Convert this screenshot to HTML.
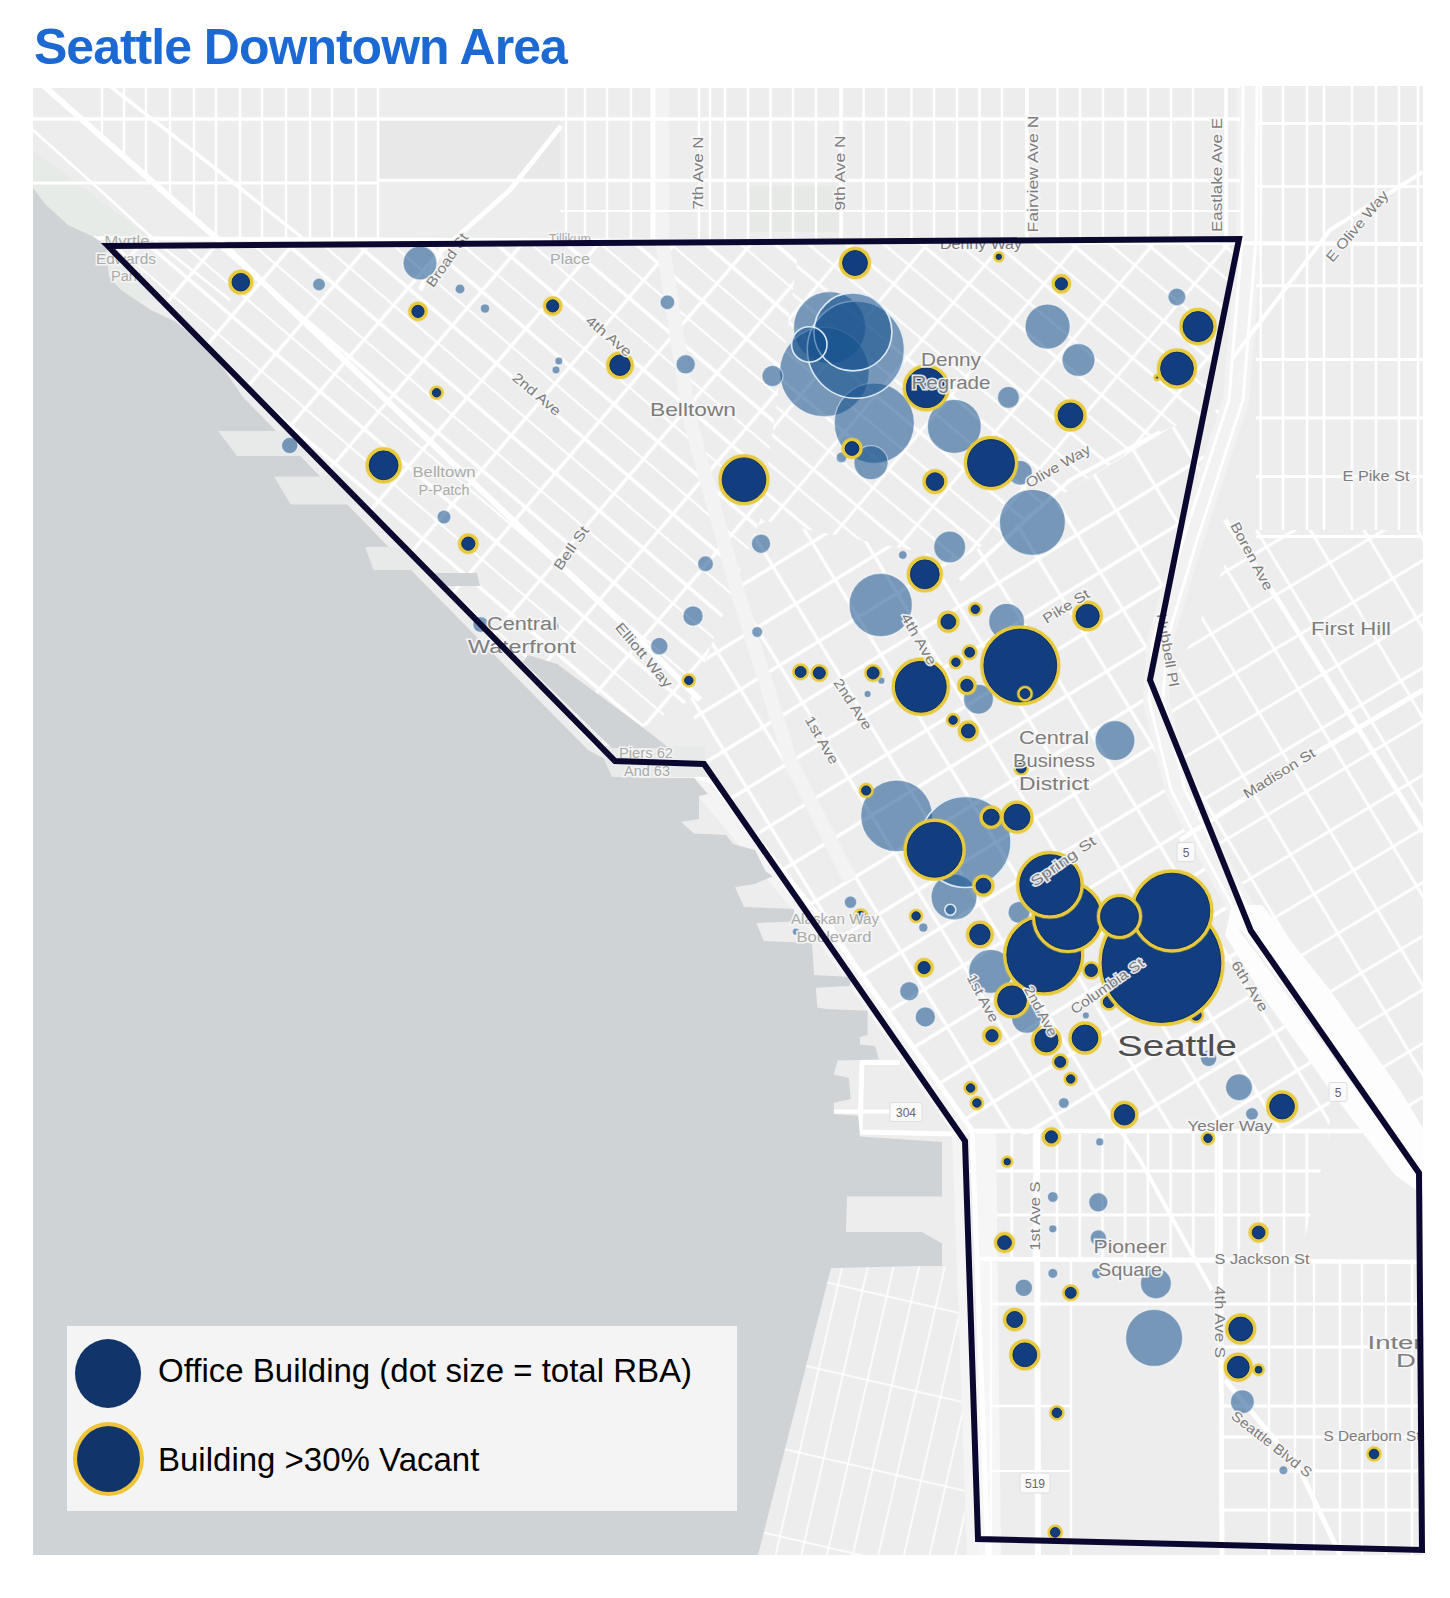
<!DOCTYPE html>
<html><head><meta charset="utf-8"><style>
html,body{margin:0;padding:0;background:#fff;width:1450px;height:1598px;overflow:hidden;position:relative}
.t{position:absolute;left:34px;top:17px;margin:0;font-family:"Liberation Sans",sans-serif;font-weight:bold;font-size:50px;letter-spacing:-1px;color:#1c69d3;white-space:nowrap;line-height:60px}
.lg{position:absolute;left:67px;top:1326px;width:670px;height:185px;background:#f4f4f5}
.lg .c1{position:absolute;left:8px;top:13px;width:66px;height:69px;border-radius:50%;background:#11346a}
.lg .c2{position:absolute;left:6px;top:96px;width:63px;height:66px;border-radius:50%;background:#11346a;border:4px solid #f0c43a}
.lg .tx{position:absolute;left:91px;font-family:"Liberation Sans",sans-serif;font-size:33px;color:#000;white-space:nowrap;line-height:40px}
</style></head><body>
<div class="t">Seattle Downtown Area</div>
<svg width="1450" height="1598" viewBox="0 0 1450 1598" style="position:absolute;left:0;top:0">
<defs><clipPath id="mc"><rect x="33" y="86" width="1390" height="1469"/></clipPath></defs>
<g clip-path="url(#mc)">
<rect x="33" y="86" width="1390" height="1469" fill="#ededed"/>
<defs><pattern id="pPS" width="22.7" height="44" patternUnits="userSpaceOnUse" patternTransform="translate(989,1127) rotate(0)">
<rect width="22.7" height="44" fill="#ededed"/>
<rect x="-1.3" y="0" width="2.6" height="44" fill="#fff"/>
<rect x="21.4" y="0" width="2.6" height="44" fill="#fff"/>
<rect x="0" y="-1.5" width="22.7" height="3.0" fill="#fff"/>
<rect x="0" y="42.5" width="22.7" height="3.0" fill="#fff"/>
</pattern>
<pattern id="pBT" width="58" height="45.3" patternUnits="userSpaceOnUse" patternTransform="translate(555.2,473.1) rotate(40.5)">
<rect width="58" height="45.3" fill="#ededed"/>
<rect x="0" y="-1.8" width="58" height="3.6" fill="#fff"/>
<rect x="0" y="43.5" width="58" height="3.6" fill="#fff"/>
<rect x="0" y="21.6" width="58" height="2.0" fill="#fff"/>
<rect x="-1.7" y="0" width="3.4" height="45.3" fill="#fff"/>
<rect x="56.3" y="0" width="3.4" height="45.3" fill="#fff"/>
</pattern>
<pattern id="pDZ" width="57.6" height="48.4" patternUnits="userSpaceOnUse" patternTransform="translate(969,284) rotate(40)">
<rect width="57.6" height="48.4" fill="#ededed"/>
<rect x="0" y="-1.5" width="57.6" height="3.0" fill="#fff"/>
<rect x="0" y="46.9" width="57.6" height="3.0" fill="#fff"/>
<rect x="0" y="23.099999999999998" width="57.6" height="2.2" fill="#fff"/>
<rect x="-1.5" y="0" width="3.0" height="48.4" fill="#fff"/>
<rect x="56.1" y="0" width="3.0" height="48.4" fill="#fff"/>
</pattern>
<pattern id="pDT" width="44" height="46" patternUnits="userSpaceOnUse" patternTransform="translate(1097.4,831.8) rotate(58.5)">
<rect width="44" height="46" fill="#ededed"/>
<rect x="0" y="-1.6" width="44" height="3.2" fill="#fff"/>
<rect x="0" y="44.4" width="44" height="3.2" fill="#fff"/>
<rect x="-1.7" y="0" width="3.4" height="46" fill="#fff"/>
<rect x="42.3" y="0" width="3.4" height="46" fill="#fff"/>
</pattern>
<pattern id="pFH" width="46" height="46" patternUnits="userSpaceOnUse" patternTransform="translate(1180,760) rotate(59)">
<rect width="46" height="46" fill="#ededed"/>
<rect x="0" y="-1.4" width="46" height="2.8" fill="#fff"/>
<rect x="0" y="44.6" width="46" height="2.8" fill="#fff"/>
<rect x="-1.4" y="0" width="2.8" height="46" fill="#fff"/>
<rect x="44.6" y="0" width="2.8" height="46" fill="#fff"/>
</pattern>
<pattern id="pIND" width="86" height="25" patternUnits="userSpaceOnUse" patternTransform="translate(838,1285) rotate(-77)">
<rect width="86" height="25" fill="#ededed"/>
<rect x="0" y="-0.8" width="86" height="1.6" fill="#fff"/>
<rect x="0" y="24.2" width="86" height="1.6" fill="#fff"/>
<rect x="-0.8" y="0" width="1.6" height="25" fill="#fff"/>
<rect x="85.2" y="0" width="1.6" height="25" fill="#fff"/>
</pattern></defs>
<rect x="380" y="120" width="180" height="60" fill="#e8e8e8"/>
<rect x="750" y="186" width="90" height="46" fill="#e6e9e6"/>
<polygon points="33.0,150.0 100.0,200.0 180.0,260.0 230.0,300.0 33.0,300.0" fill="#e7ebe7"/>
<polygon points="965.0,1131.0 1330.0,1131.0 1300.0,1259.0 978.0,1259.0" fill="url(#pPS)"/>
<polygon points="108.0,245.0 800.0,242.0 760.0,520.0 690.0,700.0 600.0,752.0" fill="url(#pBT)"/>
<polygon points="800.0,242.0 1236.0,240.0 1200.0,420.0 1160.0,432.0 960.0,560.0 760.0,520.0" fill="url(#pDZ)"/>
<polygon points="690.0,700.0 760.0,520.0 960.0,560.0 1160.0,432.0 1240.0,400.0 1150.0,680.0 1251.0,931.0 1330.0,1050.0 1330.0,1131.0 965.0,1135.0 704.0,764.0" fill="url(#pDT)"/>
<polygon points="1240.0,530.0 1423.0,530.0 1423.0,1180.0 1330.0,1050.0 1200.0,860.0 1165.0,700.0" fill="url(#pFH)"/>
<polygon points="831.0,1268.0 963.0,1266.0 965.0,1555.0 758.0,1555.0" fill="url(#pIND)"/>
<polyline points="1250.0,86.0 1249.0,240.0 1236.0,400.0 1190.0,540.0 1160.0,640.0 1156.0,700.0 1178.0,790.0 1220.0,870.0 1250.0,925.0" fill="none" stroke="#f2f2f2" stroke-width="26" stroke-linejoin="round" stroke-linecap="butt" opacity="1"/>
<polyline points="1243.0,86.0 1242.0,240.0 1229.0,400.0 1183.0,540.0 1153.0,640.0 1149.0,700.0 1171.0,790.0 1213.0,870.0 1243.0,925.0" fill="none" stroke="#fff" stroke-width="3" stroke-linejoin="round" stroke-linecap="butt" opacity="1"/>
<polyline points="1257.0,86.0 1256.0,240.0 1243.0,400.0 1197.0,540.0 1167.0,640.0 1163.0,700.0 1185.0,790.0 1227.0,870.0 1257.0,925.0" fill="none" stroke="#fff" stroke-width="3" stroke-linejoin="round" stroke-linecap="butt" opacity="1"/>
<polyline points="44.0,86.0 130.0,162.0 223.0,244.0 300.0,318.0 420.0,432.0 540.0,546.0 640.0,640.0 700.0,700.0" fill="none" stroke="#fff" stroke-width="6" stroke-linejoin="round" stroke-linecap="butt" opacity="1"/>
<polyline points="110.0,86.0 230.0,180.0 310.0,244.0" fill="none" stroke="#fff" stroke-width="3.5" stroke-linejoin="round" stroke-linecap="butt" opacity="1"/>
<polyline points="33.0,130.0 100.0,190.0 160.0,245.0 230.0,300.0" fill="none" stroke="#fff" stroke-width="2.5" stroke-linejoin="round" stroke-linecap="butt" opacity="1"/>
<polyline points="561.0,126.0 510.0,190.0 440.0,252.0 420.0,290.0" fill="none" stroke="#fff" stroke-width="5" stroke-linejoin="round" stroke-linecap="butt" opacity="1"/>
<polyline points="662.0,86.0 662.0,240.0 690.0,420.0 740.0,600.0 790.0,760.0 850.0,880.0" fill="none" stroke="#f3f3f3" stroke-width="14" stroke-linejoin="round" stroke-linecap="butt" opacity="1"/>
<polyline points="653.0,86.0 653.0,240.0" fill="none" stroke="#fff" stroke-width="5" stroke-linejoin="round" stroke-linecap="butt" opacity="1"/>
<polyline points="600.0,742.0 700.0,786.0 820.0,930.0 960.0,1130.0 975.0,1555.0" fill="none" stroke="#f4f4f4" stroke-width="16" stroke-linejoin="round" stroke-linecap="butt" opacity="1"/>
<polyline points="985.0,1130.0 990.0,1555.0" fill="none" stroke="#f6f6f6" stroke-width="22" stroke-linejoin="round" stroke-linecap="butt" opacity="1"/>
<polyline points="608.0,738.0 712.0,782.0 830.0,930.0 972.0,1130.0 988.0,1555.0" fill="none" stroke="#fff" stroke-width="5" stroke-linejoin="round" stroke-linecap="butt" opacity="1"/>
<polyline points="1423.0,172.0 1330.0,230.0 1232.0,359.0" fill="none" stroke="#fff" stroke-width="4" stroke-linejoin="round" stroke-linecap="butt" opacity="1"/>
<polyline points="33.0,238.0 1423.0,244.0" fill="none" stroke="#fff" stroke-width="4" stroke-linejoin="round" stroke-linecap="butt" opacity="1"/>
<polyline points="965.0,1131.0 1423.0,1131.0" fill="none" stroke="#fff" stroke-width="4.5" stroke-linejoin="round" stroke-linecap="butt" opacity="1"/>
<polyline points="980.0,1259.0 1423.0,1262.0" fill="none" stroke="#fff" stroke-width="4.5" stroke-linejoin="round" stroke-linecap="butt" opacity="1"/>
<polyline points="1037.0,1131.0 1038.0,1555.0" fill="none" stroke="#fff" stroke-width="6" stroke-linejoin="round" stroke-linecap="butt" opacity="1"/>
<polyline points="1220.0,1131.0 1222.0,1555.0" fill="none" stroke="#fff" stroke-width="5" stroke-linejoin="round" stroke-linecap="butt" opacity="1"/>
<polyline points="1225.0,1380.0 1300.0,1470.0 1340.0,1555.0" fill="none" stroke="#fff" stroke-width="5" stroke-linejoin="round" stroke-linecap="butt" opacity="1"/>
<polyline points="960.0,580.0 1070.0,480.0 1160.0,432.0" fill="none" stroke="#fff" stroke-width="4" stroke-linejoin="round" stroke-linecap="butt" opacity="1"/>
<polyline points="1225.0,520.0 1278.0,600.0 1423.0,832.0" fill="none" stroke="#fff" stroke-width="5" stroke-linejoin="round" stroke-linecap="butt" opacity="1"/>
<polyline points="1180.0,840.0 1321.0,750.0 1423.0,690.0" fill="none" stroke="#fff" stroke-width="5" stroke-linejoin="round" stroke-linecap="butt" opacity="1"/>
<polyline points="900.0,1062.5 862.0,1062.5 860.0,1132.0 958.0,1134.0" fill="none" stroke="#fff" stroke-width="5" stroke-linejoin="round" stroke-linecap="butt" opacity="1"/>
<polyline points="833.0,1111.4 892.0,1111.4" fill="none" stroke="#fff" stroke-width="4" stroke-linejoin="round" stroke-linecap="butt" opacity="1"/>
<polyline points="1090.0,1085.0 1140.0,1160.0 1212.0,1290.0" fill="none" stroke="#fff" stroke-width="4" stroke-linejoin="round" stroke-linecap="butt" opacity="1"/>
<polyline points="102.0,86.0 102.0,137.6" fill="none" stroke="#fff" stroke-width="2.4" stroke-linejoin="round" stroke-linecap="butt" opacity="1"/>
<polyline points="124.0,86.0 124.0,157.0" fill="none" stroke="#fff" stroke-width="2.4" stroke-linejoin="round" stroke-linecap="butt" opacity="1"/>
<polyline points="146.0,86.0 146.0,176.3" fill="none" stroke="#fff" stroke-width="2.4" stroke-linejoin="round" stroke-linecap="butt" opacity="1"/>
<polyline points="170.0,86.0 170.0,197.4" fill="none" stroke="#fff" stroke-width="2.4" stroke-linejoin="round" stroke-linecap="butt" opacity="1"/>
<polyline points="194.0,86.0 194.0,218.6" fill="none" stroke="#fff" stroke-width="2.4" stroke-linejoin="round" stroke-linecap="butt" opacity="1"/>
<polyline points="216.0,86.0 216.0,237.9" fill="none" stroke="#fff" stroke-width="2.4" stroke-linejoin="round" stroke-linecap="butt" opacity="1"/>
<polyline points="240.0,86.0 240.0,240.0" fill="none" stroke="#fff" stroke-width="2.4" stroke-linejoin="round" stroke-linecap="butt" opacity="1"/>
<polyline points="262.0,86.0 262.0,240.0" fill="none" stroke="#fff" stroke-width="2.4" stroke-linejoin="round" stroke-linecap="butt" opacity="1"/>
<polyline points="286.0,86.0 286.0,240.0" fill="none" stroke="#fff" stroke-width="2.4" stroke-linejoin="round" stroke-linecap="butt" opacity="1"/>
<polyline points="310.0,86.0 310.0,240.0" fill="none" stroke="#fff" stroke-width="2.4" stroke-linejoin="round" stroke-linecap="butt" opacity="1"/>
<polyline points="332.0,86.0 332.0,240.0" fill="none" stroke="#fff" stroke-width="2.4" stroke-linejoin="round" stroke-linecap="butt" opacity="1"/>
<polyline points="356.0,86.0 356.0,240.0" fill="none" stroke="#fff" stroke-width="2.4" stroke-linejoin="round" stroke-linecap="butt" opacity="1"/>
<polyline points="378.0,86.0 378.0,240.0" fill="none" stroke="#fff" stroke-width="2.4" stroke-linejoin="round" stroke-linecap="butt" opacity="1"/>
<polyline points="566.0,86.0 566.0,240.0" fill="none" stroke="#fff" stroke-width="2.4" stroke-linejoin="round" stroke-linecap="butt" opacity="1"/>
<polyline points="585.0,86.0 585.0,240.0" fill="none" stroke="#fff" stroke-width="2.4" stroke-linejoin="round" stroke-linecap="butt" opacity="1"/>
<polyline points="607.0,86.0 607.0,240.0" fill="none" stroke="#fff" stroke-width="2.4" stroke-linejoin="round" stroke-linecap="butt" opacity="1"/>
<polyline points="631.0,86.0 631.0,240.0" fill="none" stroke="#fff" stroke-width="2.4" stroke-linejoin="round" stroke-linecap="butt" opacity="1"/>
<polyline points="699.0,86.0 699.0,240.0" fill="none" stroke="#fff" stroke-width="2.4" stroke-linejoin="round" stroke-linecap="butt" opacity="1"/>
<polyline points="710.0,86.0 710.0,240.0" fill="none" stroke="#fff" stroke-width="2.4" stroke-linejoin="round" stroke-linecap="butt" opacity="1"/>
<polyline points="725.0,86.0 725.0,240.0" fill="none" stroke="#fff" stroke-width="2.4" stroke-linejoin="round" stroke-linecap="butt" opacity="1"/>
<polyline points="748.0,86.0 748.0,240.0" fill="none" stroke="#fff" stroke-width="2.4" stroke-linejoin="round" stroke-linecap="butt" opacity="1"/>
<polyline points="770.5,86.0 770.5,240.0" fill="none" stroke="#fff" stroke-width="2.4" stroke-linejoin="round" stroke-linecap="butt" opacity="1"/>
<polyline points="793.0,86.0 793.0,240.0" fill="none" stroke="#fff" stroke-width="2.4" stroke-linejoin="round" stroke-linecap="butt" opacity="1"/>
<polyline points="816.0,86.0 816.0,240.0" fill="none" stroke="#fff" stroke-width="2.4" stroke-linejoin="round" stroke-linecap="butt" opacity="1"/>
<polyline points="863.6,86.0 863.6,240.0" fill="none" stroke="#fff" stroke-width="2.4" stroke-linejoin="round" stroke-linecap="butt" opacity="1"/>
<polyline points="886.0,86.0 886.0,240.0" fill="none" stroke="#fff" stroke-width="2.4" stroke-linejoin="round" stroke-linecap="butt" opacity="1"/>
<polyline points="911.5,86.0 911.5,240.0" fill="none" stroke="#fff" stroke-width="2.4" stroke-linejoin="round" stroke-linecap="butt" opacity="1"/>
<polyline points="934.0,86.0 934.0,240.0" fill="none" stroke="#fff" stroke-width="2.4" stroke-linejoin="round" stroke-linecap="butt" opacity="1"/>
<polyline points="957.0,86.0 957.0,240.0" fill="none" stroke="#fff" stroke-width="2.4" stroke-linejoin="round" stroke-linecap="butt" opacity="1"/>
<polyline points="979.5,86.0 979.5,240.0" fill="none" stroke="#fff" stroke-width="2.4" stroke-linejoin="round" stroke-linecap="butt" opacity="1"/>
<polyline points="1002.0,86.0 1002.0,240.0" fill="none" stroke="#fff" stroke-width="2.4" stroke-linejoin="round" stroke-linecap="butt" opacity="1"/>
<polyline points="1057.5,86.0 1057.5,240.0" fill="none" stroke="#fff" stroke-width="2.4" stroke-linejoin="round" stroke-linecap="butt" opacity="1"/>
<polyline points="1080.0,86.0 1080.0,240.0" fill="none" stroke="#fff" stroke-width="2.4" stroke-linejoin="round" stroke-linecap="butt" opacity="1"/>
<polyline points="1103.0,86.0 1103.0,240.0" fill="none" stroke="#fff" stroke-width="2.4" stroke-linejoin="round" stroke-linecap="butt" opacity="1"/>
<polyline points="1125.5,86.0 1125.5,240.0" fill="none" stroke="#fff" stroke-width="2.4" stroke-linejoin="round" stroke-linecap="butt" opacity="1"/>
<polyline points="1148.0,86.0 1148.0,240.0" fill="none" stroke="#fff" stroke-width="2.4" stroke-linejoin="round" stroke-linecap="butt" opacity="1"/>
<polyline points="1171.0,86.0 1171.0,240.0" fill="none" stroke="#fff" stroke-width="2.4" stroke-linejoin="round" stroke-linecap="butt" opacity="1"/>
<polyline points="1193.0,86.0 1193.0,240.0" fill="none" stroke="#fff" stroke-width="2.4" stroke-linejoin="round" stroke-linecap="butt" opacity="1"/>
<polyline points="841.0,86.0 841.0,240.0" fill="none" stroke="#fff" stroke-width="3.6" stroke-linejoin="round" stroke-linecap="butt" opacity="1"/>
<polyline points="1027.0,86.0 1027.0,240.0" fill="none" stroke="#fff" stroke-width="3.6" stroke-linejoin="round" stroke-linecap="butt" opacity="1"/>
<polyline points="1226.0,86.0 1226.0,240.0" fill="none" stroke="#fff" stroke-width="3.6" stroke-linejoin="round" stroke-linecap="butt" opacity="1"/>
<polyline points="33.0,119.0 1240.0,119.0" fill="none" stroke="#fff" stroke-width="3.4" stroke-linejoin="round" stroke-linecap="butt" opacity="1"/>
<polyline points="33.0,183.0 378.0,183.0" fill="none" stroke="#fff" stroke-width="3.2" stroke-linejoin="round" stroke-linecap="butt" opacity="1"/>
<polyline points="378.0,180.4 1240.0,180.4" fill="none" stroke="#fff" stroke-width="3.2" stroke-linejoin="round" stroke-linecap="butt" opacity="1"/>
<polyline points="33.0,87.0 1240.0,87.0" fill="none" stroke="#fff" stroke-width="2" stroke-linejoin="round" stroke-linecap="butt" opacity="1"/>
<polyline points="560.0,211.0 1240.0,211.0" fill="none" stroke="#fff" stroke-width="2.2" stroke-linejoin="round" stroke-linecap="butt" opacity="1"/>
<polyline points="1260.7,86.0 1260.7,530.0" fill="none" stroke="#fff" stroke-width="2.6" stroke-linejoin="round" stroke-linecap="butt" opacity="1"/>
<polyline points="1283.0,86.0 1283.0,530.0" fill="none" stroke="#fff" stroke-width="2.6" stroke-linejoin="round" stroke-linecap="butt" opacity="1"/>
<polyline points="1307.0,86.0 1307.0,530.0" fill="none" stroke="#fff" stroke-width="2.6" stroke-linejoin="round" stroke-linecap="butt" opacity="1"/>
<polyline points="1324.0,86.0 1324.0,530.0" fill="none" stroke="#fff" stroke-width="2.6" stroke-linejoin="round" stroke-linecap="butt" opacity="1"/>
<polyline points="1352.0,86.0 1352.0,530.0" fill="none" stroke="#fff" stroke-width="2.6" stroke-linejoin="round" stroke-linecap="butt" opacity="1"/>
<polyline points="1376.0,86.0 1376.0,530.0" fill="none" stroke="#fff" stroke-width="2.6" stroke-linejoin="round" stroke-linecap="butt" opacity="1"/>
<polyline points="1399.0,86.0 1399.0,530.0" fill="none" stroke="#fff" stroke-width="2.6" stroke-linejoin="round" stroke-linecap="butt" opacity="1"/>
<polyline points="1418.0,86.0 1418.0,530.0" fill="none" stroke="#fff" stroke-width="2.6" stroke-linejoin="round" stroke-linecap="butt" opacity="1"/>
<polyline points="1256.0,123.6 1423.0,123.6" fill="none" stroke="#fff" stroke-width="3" stroke-linejoin="round" stroke-linecap="butt" opacity="1"/>
<polyline points="1256.0,186.6 1423.0,186.6" fill="none" stroke="#fff" stroke-width="3" stroke-linejoin="round" stroke-linecap="butt" opacity="1"/>
<polyline points="1256.0,243.7 1423.0,243.7" fill="none" stroke="#fff" stroke-width="3" stroke-linejoin="round" stroke-linecap="butt" opacity="1"/>
<polyline points="1256.0,285.8 1423.0,285.8" fill="none" stroke="#fff" stroke-width="3" stroke-linejoin="round" stroke-linecap="butt" opacity="1"/>
<polyline points="1256.0,359.4 1423.0,359.4" fill="none" stroke="#fff" stroke-width="3" stroke-linejoin="round" stroke-linecap="butt" opacity="1"/>
<polyline points="1256.0,418.0 1423.0,418.0" fill="none" stroke="#fff" stroke-width="3" stroke-linejoin="round" stroke-linecap="butt" opacity="1"/>
<polyline points="1256.0,476.5 1423.0,476.5" fill="none" stroke="#fff" stroke-width="3" stroke-linejoin="round" stroke-linecap="butt" opacity="1"/>
<polyline points="1256.0,536.6 1423.0,536.6" fill="none" stroke="#fff" stroke-width="3" stroke-linejoin="round" stroke-linecap="butt" opacity="1"/>
<polyline points="991.0,1259.0 991.0,1555.0" fill="none" stroke="#fff" stroke-width="2.4" stroke-linejoin="round" stroke-linecap="butt" opacity="1"/>
<polyline points="1071.0,1259.0 1071.0,1555.0" fill="none" stroke="#fff" stroke-width="2.4" stroke-linejoin="round" stroke-linecap="butt" opacity="1"/>
<polyline points="991.0,1304.0 1219.0,1304.0" fill="none" stroke="#fff" stroke-width="3" stroke-linejoin="round" stroke-linecap="butt" opacity="1"/>
<polyline points="991.0,1406.0 1071.0,1406.0" fill="none" stroke="#fff" stroke-width="2.6" stroke-linejoin="round" stroke-linecap="butt" opacity="1"/>
<polyline points="991.0,1471.0 1071.0,1471.0" fill="none" stroke="#fff" stroke-width="2.2" stroke-linejoin="round" stroke-linecap="butt" opacity="1"/>
<polyline points="1269.0,1259.0 1269.0,1555.0" fill="none" stroke="#fff" stroke-width="2.4" stroke-linejoin="round" stroke-linecap="butt" opacity="1"/>
<polyline points="1295.0,1259.0 1295.0,1555.0" fill="none" stroke="#fff" stroke-width="2.4" stroke-linejoin="round" stroke-linecap="butt" opacity="1"/>
<polyline points="1314.0,1259.0 1314.0,1555.0" fill="none" stroke="#fff" stroke-width="2.4" stroke-linejoin="round" stroke-linecap="butt" opacity="1"/>
<polyline points="1340.0,1259.0 1340.0,1555.0" fill="none" stroke="#fff" stroke-width="2.4" stroke-linejoin="round" stroke-linecap="butt" opacity="1"/>
<polyline points="1362.0,1259.0 1362.0,1555.0" fill="none" stroke="#fff" stroke-width="2.4" stroke-linejoin="round" stroke-linecap="butt" opacity="1"/>
<polyline points="1386.0,1259.0 1386.0,1555.0" fill="none" stroke="#fff" stroke-width="2.4" stroke-linejoin="round" stroke-linecap="butt" opacity="1"/>
<polyline points="1412.0,1259.0 1412.0,1555.0" fill="none" stroke="#fff" stroke-width="2.4" stroke-linejoin="round" stroke-linecap="butt" opacity="1"/>
<polyline points="1219.0,1304.0 1423.0,1304.0" fill="none" stroke="#fff" stroke-width="2.8" stroke-linejoin="round" stroke-linecap="butt" opacity="1"/>
<polyline points="1219.0,1347.0 1423.0,1347.0" fill="none" stroke="#fff" stroke-width="2.8" stroke-linejoin="round" stroke-linecap="butt" opacity="1"/>
<polyline points="1219.0,1406.0 1423.0,1406.0" fill="none" stroke="#fff" stroke-width="2.8" stroke-linejoin="round" stroke-linecap="butt" opacity="1"/>
<polyline points="1219.0,1437.0 1423.0,1437.0" fill="none" stroke="#fff" stroke-width="2.8" stroke-linejoin="round" stroke-linecap="butt" opacity="1"/>
<polyline points="1219.0,1471.0 1423.0,1471.0" fill="none" stroke="#fff" stroke-width="2.8" stroke-linejoin="round" stroke-linecap="butt" opacity="1"/>
<polyline points="1219.0,1510.0 1423.0,1510.0" fill="none" stroke="#fff" stroke-width="2.8" stroke-linejoin="round" stroke-linecap="butt" opacity="1"/>
<polygon points="1232.0,905.0 1262.0,905.0 1330.0,990.0 1400.0,1090.0 1430.0,1140.0 1430.0,1200.0 1395.0,1175.0 1330.0,1090.0 1262.0,995.0 1225.0,935.0" fill="#fdfdfd"/>
<polyline points="1240.0,930.0 1300.0,1010.0 1365.0,1100.0 1423.0,1175.0" fill="none" stroke="#eeeeee" stroke-width="2" stroke-linejoin="round" stroke-linecap="round" opacity="1"/>
<polygon points="33.0,188.0 45.0,204.0 68.0,225.0 94.0,237.0 106.0,246.0 109.0,277.0 121.0,290.0 151.0,310.0 176.0,322.0 212.0,352.0 243.0,397.0 408.0,567.0 588.0,750.0 640.0,778.0 694.0,778.0 708.0,794.0 699.0,796.0 699.0,819.0 681.0,822.0 694.0,833.5 726.0,835.0 733.0,844.0 755.0,850.0 765.5,871.0 772.7,876.5 755.0,883.7 735.0,887.3 744.0,907.0 794.0,909.0 794.0,921.4 756.5,923.0 763.7,941.0 812.0,943.0 814.0,975.0 851.6,977.0 849.8,986.0 815.7,987.7 817.5,1007.4 826.0,1009.0 867.6,1010.7 867.6,1035.0 860.0,1037.0 860.0,1044.5 875.0,1046.0 879.0,1059.5 837.6,1060.4 833.8,1074.5 848.8,1078.0 850.7,1099.0 833.8,1102.7 833.8,1114.0 858.2,1115.8 860.0,1136.5 912.7,1140.0 942.0,1142.0 942.0,1196.5 847.0,1196.5 846.0,1232.0 922.0,1232.0 942.0,1243.5 942.0,1266.0 920.0,1266.0 831.0,1268.0 758.0,1555.0 33.0,1555.0" fill="#cfd3d6"/>
<polygon points="218.0,431.0 293.0,431.0 315.0,456.0 237.0,456.0" fill="#e8e9e9"/>
<polygon points="274.0,476.6 332.0,476.6 357.0,504.5 290.7,504.5" fill="#e8e9e9"/>
<polygon points="365.0,547.0 398.0,547.0 425.0,570.0 373.5,570.0" fill="#e8e9e9"/>
<polygon points="598.0,746.0 705.0,746.0 705.0,777.0 612.0,777.0" fill="#e8e9e9"/>
<polygon points="528.0,655.0 557.0,664.0 641.0,726.0 669.0,748.0 612.0,748.0 523.0,662.0" fill="#cfd3d6"/>
<polygon points="433.0,573.0 477.0,573.0 480.0,586.0 446.0,586.0" fill="#cfd3d6"/>
<!--ROADS-->
</g>
<g>
<circle cx="896.6" cy="815.9" r="35.9" fill="rgba(20,80,140,0.55)" stroke="rgba(250,252,255,0.6)" stroke-width="1.4"/>
<circle cx="1032.4" cy="522.4" r="33" fill="rgba(20,80,140,0.55)" stroke="rgba(250,252,255,0.6)" stroke-width="1.4"/>
<circle cx="880.7" cy="605" r="31.7" fill="rgba(20,80,140,0.55)" stroke="rgba(250,252,255,0.6)" stroke-width="1.4"/>
<circle cx="1154.1" cy="1337.9" r="28.6" fill="rgba(20,80,140,0.55)" stroke="rgba(250,252,255,0.6)" stroke-width="1.4"/>
<circle cx="954.3" cy="426.4" r="27" fill="rgba(20,80,140,0.55)" stroke="rgba(250,252,255,0.6)" stroke-width="1.4"/>
<circle cx="954" cy="897" r="23" fill="rgba(20,80,140,0.55)" stroke="rgba(250,252,255,0.6)" stroke-width="1.4"/>
<circle cx="1047.6" cy="326.6" r="22.6" fill="rgba(20,80,140,0.55)" stroke="rgba(250,252,255,0.6)" stroke-width="1.4"/>
<circle cx="990.7" cy="971.4" r="22" fill="rgba(20,80,140,0.55)" stroke="rgba(250,252,255,0.6)" stroke-width="1.4"/>
<circle cx="1115" cy="740.6" r="20" fill="rgba(20,80,140,0.55)" stroke="rgba(250,252,255,0.6)" stroke-width="1.4"/>
<circle cx="1006.6" cy="621.4" r="18" fill="rgba(20,80,140,0.55)" stroke="rgba(250,252,255,0.6)" stroke-width="1.4"/>
<circle cx="420" cy="263" r="17" fill="rgba(20,80,140,0.55)" stroke="rgba(250,252,255,0.6)" stroke-width="1.4"/>
<circle cx="1078.5" cy="360" r="16.5" fill="rgba(20,80,140,0.55)" stroke="rgba(250,252,255,0.6)" stroke-width="1.4"/>
<circle cx="949.7" cy="547" r="16" fill="rgba(20,80,140,0.55)" stroke="rgba(250,252,255,0.6)" stroke-width="1.4"/>
<circle cx="1155.9" cy="1283.4" r="15.5" fill="rgba(20,80,140,0.55)" stroke="rgba(250,252,255,0.6)" stroke-width="1.4"/>
<circle cx="978.5" cy="699.2" r="15" fill="rgba(20,80,140,0.55)" stroke="rgba(250,252,255,0.6)" stroke-width="1.4"/>
<circle cx="1026.6" cy="1018.3" r="15" fill="rgba(20,80,140,0.55)" stroke="rgba(250,252,255,0.6)" stroke-width="1.4"/>
<circle cx="1239" cy="1087.2" r="13.5" fill="rgba(20,80,140,0.55)" stroke="rgba(250,252,255,0.6)" stroke-width="1.4"/>
<circle cx="1020" cy="472.8" r="12.4" fill="rgba(20,80,140,0.55)" stroke="rgba(250,252,255,0.6)" stroke-width="1.4"/>
<circle cx="1242.4" cy="1401.7" r="12" fill="rgba(20,80,140,0.55)" stroke="rgba(250,252,255,0.6)" stroke-width="1.4"/>
<circle cx="1008.4" cy="397.4" r="11" fill="rgba(20,80,140,0.55)" stroke="rgba(250,252,255,0.6)" stroke-width="1.4"/>
<circle cx="1019" cy="912.4" r="11" fill="rgba(20,80,140,0.55)" stroke="rgba(250,252,255,0.6)" stroke-width="1.4"/>
<circle cx="693" cy="616" r="10.2" fill="rgba(20,80,140,0.55)" stroke="rgba(250,252,255,0.6)" stroke-width="1.4"/>
<circle cx="925.3" cy="1016.9" r="10.2" fill="rgba(20,80,140,0.55)" stroke="rgba(250,252,255,0.6)" stroke-width="1.4"/>
<circle cx="685.7" cy="364.3" r="9.7" fill="rgba(20,80,140,0.55)" stroke="rgba(250,252,255,0.6)" stroke-width="1.4"/>
<circle cx="761" cy="543.7" r="9.7" fill="rgba(20,80,140,0.55)" stroke="rgba(250,252,255,0.6)" stroke-width="1.4"/>
<circle cx="909.3" cy="991.2" r="9.7" fill="rgba(20,80,140,0.55)" stroke="rgba(250,252,255,0.6)" stroke-width="1.4"/>
<circle cx="1098.3" cy="1202.3" r="9.7" fill="rgba(20,80,140,0.55)" stroke="rgba(250,252,255,0.6)" stroke-width="1.4"/>
<circle cx="1176.9" cy="297" r="9" fill="rgba(20,80,140,0.55)" stroke="rgba(250,252,255,0.6)" stroke-width="1.4"/>
<circle cx="659.3" cy="646.2" r="8.8" fill="rgba(20,80,140,0.55)" stroke="rgba(250,252,255,0.6)" stroke-width="1.4"/>
<circle cx="1023.8" cy="1287.8" r="8.8" fill="rgba(20,80,140,0.55)" stroke="rgba(250,252,255,0.6)" stroke-width="1.4"/>
<circle cx="289.7" cy="445.5" r="8.3" fill="rgba(20,80,140,0.55)" stroke="rgba(250,252,255,0.6)" stroke-width="1.4"/>
<circle cx="1208.6" cy="1058.3" r="8.3" fill="rgba(20,80,140,0.55)" stroke="rgba(250,252,255,0.6)" stroke-width="1.4"/>
<circle cx="1098.3" cy="1238" r="8.3" fill="rgba(20,80,140,0.55)" stroke="rgba(250,252,255,0.6)" stroke-width="1.4"/>
<circle cx="480.7" cy="624.5" r="8" fill="rgba(20,80,140,0.55)" stroke="rgba(250,252,255,0.6)" stroke-width="1.4"/>
<circle cx="705.5" cy="563.8" r="8" fill="rgba(20,80,140,0.55)" stroke="rgba(250,252,255,0.6)" stroke-width="1.4"/>
<circle cx="667.4" cy="302.3" r="7.4" fill="rgba(20,80,140,0.55)" stroke="rgba(250,252,255,0.6)" stroke-width="1.4"/>
<circle cx="444" cy="517" r="7" fill="rgba(20,80,140,0.55)" stroke="rgba(250,252,255,0.6)" stroke-width="1.4"/>
<circle cx="319" cy="284.5" r="6.5" fill="rgba(20,80,140,0.55)" stroke="rgba(250,252,255,0.6)" stroke-width="1.4"/>
<circle cx="1252" cy="1114" r="6.5" fill="rgba(20,80,140,0.55)" stroke="rgba(250,252,255,0.6)" stroke-width="1.4"/>
<circle cx="850.5" cy="902.2" r="6.3" fill="rgba(20,80,140,0.55)" stroke="rgba(250,252,255,0.6)" stroke-width="1.4"/>
<circle cx="757.2" cy="632" r="5.5" fill="rgba(20,80,140,0.55)" stroke="rgba(250,252,255,0.6)" stroke-width="1.4"/>
<circle cx="1063.8" cy="1103" r="5.5" fill="rgba(20,80,140,0.55)" stroke="rgba(250,252,255,0.6)" stroke-width="1.4"/>
<circle cx="1052.8" cy="1197" r="5.5" fill="rgba(20,80,140,0.55)" stroke="rgba(250,252,255,0.6)" stroke-width="1.4"/>
<circle cx="1097" cy="1273.4" r="5.5" fill="rgba(20,80,140,0.55)" stroke="rgba(250,252,255,0.6)" stroke-width="1.4"/>
<circle cx="460" cy="289" r="5" fill="rgba(20,80,140,0.55)" stroke="rgba(250,252,255,0.6)" stroke-width="1.4"/>
<circle cx="1052.8" cy="1273.4" r="5" fill="rgba(20,80,140,0.55)" stroke="rgba(250,252,255,0.6)" stroke-width="1.4"/>
<circle cx="485" cy="308.6" r="4.7" fill="rgba(20,80,140,0.55)" stroke="rgba(250,252,255,0.6)" stroke-width="1.4"/>
<circle cx="923.3" cy="927.6" r="4.7" fill="rgba(20,80,140,0.55)" stroke="rgba(250,252,255,0.6)" stroke-width="1.4"/>
<circle cx="1283.4" cy="1470.3" r="4.5" fill="rgba(20,80,140,0.55)" stroke="rgba(250,252,255,0.6)" stroke-width="1.4"/>
<circle cx="902.8" cy="555" r="4.4" fill="rgba(20,80,140,0.55)" stroke="rgba(250,252,255,0.6)" stroke-width="1.4"/>
<circle cx="1099.7" cy="1141.9" r="4.1" fill="rgba(20,80,140,0.55)" stroke="rgba(250,252,255,0.6)" stroke-width="1.4"/>
<circle cx="1052.8" cy="1228.8" r="4.1" fill="rgba(20,80,140,0.55)" stroke="rgba(250,252,255,0.6)" stroke-width="1.4"/>
<circle cx="558.8" cy="361" r="4" fill="rgba(20,80,140,0.55)" stroke="rgba(250,252,255,0.6)" stroke-width="1.4"/>
<circle cx="556" cy="370" r="4" fill="rgba(20,80,140,0.55)" stroke="rgba(250,252,255,0.6)" stroke-width="1.4"/>
<circle cx="555" cy="626" r="4" fill="rgba(20,80,140,0.55)" stroke="rgba(250,252,255,0.6)" stroke-width="1.4"/>
<circle cx="881.4" cy="680.7" r="3.6" fill="rgba(20,80,140,0.55)" stroke="rgba(250,252,255,0.6)" stroke-width="1.4"/>
<circle cx="867.6" cy="694" r="3.6" fill="rgba(20,80,140,0.55)" stroke="rgba(250,252,255,0.6)" stroke-width="1.4"/>
<circle cx="795.9" cy="931.7" r="3.6" fill="rgba(20,80,140,0.55)" stroke="rgba(250,252,255,0.6)" stroke-width="1.4"/>
<circle cx="1085.9" cy="1015.5" r="3.6" fill="rgba(20,80,140,0.55)" stroke="rgba(250,252,255,0.6)" stroke-width="1.4"/>
<circle cx="829.6" cy="327.6" r="36" fill="rgba(20,80,140,0.55)" stroke="rgba(250,252,255,0.5)" stroke-width="1.2"/>
<circle cx="824.4" cy="372" r="44.7" fill="rgba(20,80,140,0.55)" stroke="rgba(250,252,255,0.5)" stroke-width="1.2"/>
<circle cx="874.3" cy="423.2" r="40" fill="rgba(20,80,140,0.55)" stroke="rgba(250,252,255,0.5)" stroke-width="1.2"/>
<circle cx="871" cy="462.6" r="17" fill="rgba(20,80,140,0.55)" stroke="rgba(250,252,255,0.5)" stroke-width="1.2"/>
<circle cx="772.5" cy="376" r="10.5" fill="rgba(20,80,140,0.55)" stroke="rgba(250,252,255,0.5)" stroke-width="1.2"/>
<circle cx="841.5" cy="457.4" r="5.3" fill="rgba(20,80,140,0.55)" stroke="rgba(250,252,255,0.5)" stroke-width="1.2"/>
<circle cx="855.9" cy="349.6" r="48.6" fill="rgba(20,80,140,0.55)" stroke="rgba(225,238,250,0.95)" stroke-width="1.6"/>
<circle cx="852.9" cy="331.9" r="39" fill="rgba(20,80,140,0.55)" stroke="rgba(225,238,250,0.95)" stroke-width="1.6"/>
<circle cx="809.3" cy="344.4" r="17.7" fill="rgba(20,80,140,0.55)" stroke="rgba(225,238,250,0.95)" stroke-width="1.6"/>
<circle cx="965.5" cy="842" r="45.5" fill="rgba(20,80,140,0.55)" stroke="rgba(225,238,250,0.95)" stroke-width="1.6"/>
<circle cx="950.3" cy="909.7" r="5.5" fill="rgba(20,80,140,0.55)" stroke="rgba(225,238,250,0.95)" stroke-width="1.6"/>
<circle cx="1109" cy="1002" r="8.50" fill="none" stroke="rgba(232,205,60,0.35)" stroke-width="1.6"/>
<circle cx="1109" cy="1002" r="7.10" fill="#123e80" stroke="#e6c93c" stroke-width="2.8"/>
<circle cx="1109" cy="1002" r="5.70" fill="none" stroke="#0c2a5a" stroke-width="0.9"/>
<circle cx="1196" cy="1015" r="8.00" fill="none" stroke="rgba(232,205,60,0.35)" stroke-width="1.6"/>
<circle cx="1196" cy="1015" r="6.60" fill="#123e80" stroke="#e6c93c" stroke-width="2.8"/>
<circle cx="1196" cy="1015" r="5.20" fill="none" stroke="#0c2a5a" stroke-width="0.9"/>
<circle cx="1161.5" cy="963" r="63.00" fill="none" stroke="rgba(232,205,60,0.35)" stroke-width="1.6"/>
<circle cx="1161.5" cy="963" r="61.20" fill="#123e80" stroke="#e6c93c" stroke-width="3.6"/>
<circle cx="1161.5" cy="963" r="59.40" fill="none" stroke="#0c2a5a" stroke-width="0.9"/>
<circle cx="1172" cy="911" r="41.40" fill="none" stroke="rgba(232,205,60,0.35)" stroke-width="1.6"/>
<circle cx="1172" cy="911" r="39.60" fill="#123e80" stroke="#e6c93c" stroke-width="3.6"/>
<circle cx="1172" cy="911" r="37.80" fill="none" stroke="#0c2a5a" stroke-width="0.9"/>
<circle cx="1043.7" cy="955" r="40.50" fill="none" stroke="rgba(232,205,60,0.35)" stroke-width="1.6"/>
<circle cx="1043.7" cy="955" r="38.70" fill="#123e80" stroke="#e6c93c" stroke-width="3.6"/>
<circle cx="1043.7" cy="955" r="36.90" fill="none" stroke="#0c2a5a" stroke-width="0.9"/>
<circle cx="1020.3" cy="665.5" r="40.00" fill="none" stroke="rgba(232,205,60,0.35)" stroke-width="1.6"/>
<circle cx="1020.3" cy="665.5" r="38.20" fill="#123e80" stroke="#e6c93c" stroke-width="3.6"/>
<circle cx="1020.3" cy="665.5" r="36.40" fill="none" stroke="#0c2a5a" stroke-width="0.9"/>
<circle cx="1068" cy="917" r="36.00" fill="none" stroke="rgba(232,205,60,0.35)" stroke-width="1.6"/>
<circle cx="1068" cy="917" r="34.20" fill="#123e80" stroke="#e6c93c" stroke-width="3.6"/>
<circle cx="1068" cy="917" r="32.40" fill="none" stroke="#0c2a5a" stroke-width="0.9"/>
<circle cx="1049.9" cy="884.8" r="33.70" fill="none" stroke="rgba(232,205,60,0.35)" stroke-width="1.6"/>
<circle cx="1049.9" cy="884.8" r="31.90" fill="#123e80" stroke="#e6c93c" stroke-width="3.6"/>
<circle cx="1049.9" cy="884.8" r="30.10" fill="none" stroke="#0c2a5a" stroke-width="0.9"/>
<circle cx="934.6" cy="849.8" r="31.00" fill="none" stroke="rgba(232,205,60,0.35)" stroke-width="1.6"/>
<circle cx="934.6" cy="849.8" r="29.20" fill="#123e80" stroke="#e6c93c" stroke-width="3.6"/>
<circle cx="934.6" cy="849.8" r="27.40" fill="none" stroke="#0c2a5a" stroke-width="0.9"/>
<circle cx="920.8" cy="686.8" r="29.00" fill="none" stroke="rgba(232,205,60,0.35)" stroke-width="1.6"/>
<circle cx="920.8" cy="686.8" r="27.20" fill="#123e80" stroke="#e6c93c" stroke-width="3.6"/>
<circle cx="920.8" cy="686.8" r="25.40" fill="none" stroke="#0c2a5a" stroke-width="0.9"/>
<circle cx="991" cy="463" r="27.00" fill="none" stroke="rgba(232,205,60,0.35)" stroke-width="1.6"/>
<circle cx="991" cy="463" r="25.20" fill="#123e80" stroke="#e6c93c" stroke-width="3.6"/>
<circle cx="991" cy="463" r="23.40" fill="none" stroke="#0c2a5a" stroke-width="0.9"/>
<circle cx="744" cy="479.7" r="25.40" fill="none" stroke="rgba(232,205,60,0.35)" stroke-width="1.6"/>
<circle cx="744" cy="479.7" r="23.60" fill="#123e80" stroke="#e6c93c" stroke-width="3.6"/>
<circle cx="744" cy="479.7" r="21.80" fill="none" stroke="#0c2a5a" stroke-width="0.9"/>
<circle cx="926.2" cy="387.8" r="23.40" fill="none" stroke="rgba(232,205,60,0.35)" stroke-width="1.6"/>
<circle cx="926.2" cy="387.8" r="21.60" fill="#123e80" stroke="#e6c93c" stroke-width="3.6"/>
<circle cx="926.2" cy="387.8" r="19.80" fill="none" stroke="#0c2a5a" stroke-width="0.9"/>
<circle cx="1119.5" cy="916.5" r="22.50" fill="none" stroke="rgba(232,205,60,0.35)" stroke-width="1.6"/>
<circle cx="1119.5" cy="916.5" r="20.70" fill="#123e80" stroke="#e6c93c" stroke-width="3.6"/>
<circle cx="1119.5" cy="916.5" r="18.90" fill="none" stroke="#0c2a5a" stroke-width="0.9"/>
<circle cx="1177" cy="368.5" r="20.00" fill="none" stroke="rgba(232,205,60,0.35)" stroke-width="1.6"/>
<circle cx="1177" cy="368.5" r="18.20" fill="#123e80" stroke="#e6c93c" stroke-width="3.6"/>
<circle cx="1177" cy="368.5" r="16.40" fill="none" stroke="#0c2a5a" stroke-width="0.9"/>
<circle cx="1198" cy="326.6" r="18.60" fill="none" stroke="rgba(232,205,60,0.35)" stroke-width="1.6"/>
<circle cx="1198" cy="326.6" r="16.80" fill="#123e80" stroke="#e6c93c" stroke-width="3.6"/>
<circle cx="1198" cy="326.6" r="15.00" fill="none" stroke="#0c2a5a" stroke-width="0.9"/>
<circle cx="383.6" cy="465.3" r="18.00" fill="none" stroke="rgba(232,205,60,0.35)" stroke-width="1.6"/>
<circle cx="383.6" cy="465.3" r="16.20" fill="#123e80" stroke="#e6c93c" stroke-width="3.6"/>
<circle cx="383.6" cy="465.3" r="14.40" fill="none" stroke="#0c2a5a" stroke-width="0.9"/>
<circle cx="924.8" cy="574.3" r="18.00" fill="none" stroke="rgba(232,205,60,0.35)" stroke-width="1.6"/>
<circle cx="924.8" cy="574.3" r="16.20" fill="#123e80" stroke="#e6c93c" stroke-width="3.6"/>
<circle cx="924.8" cy="574.3" r="14.40" fill="none" stroke="#0c2a5a" stroke-width="0.9"/>
<circle cx="1012" cy="1000.3" r="18.00" fill="none" stroke="rgba(232,205,60,0.35)" stroke-width="1.6"/>
<circle cx="1012" cy="1000.3" r="16.20" fill="#123e80" stroke="#e6c93c" stroke-width="3.6"/>
<circle cx="1012" cy="1000.3" r="14.40" fill="none" stroke="#0c2a5a" stroke-width="0.9"/>
<circle cx="1017" cy="817.2" r="16.50" fill="none" stroke="rgba(232,205,60,0.35)" stroke-width="1.6"/>
<circle cx="1017" cy="817.2" r="14.70" fill="#123e80" stroke="#e6c93c" stroke-width="3.6"/>
<circle cx="1017" cy="817.2" r="12.90" fill="none" stroke="#0c2a5a" stroke-width="0.9"/>
<circle cx="1085" cy="1038" r="16.50" fill="none" stroke="rgba(232,205,60,0.35)" stroke-width="1.6"/>
<circle cx="1085" cy="1038" r="14.70" fill="#123e80" stroke="#e6c93c" stroke-width="3.6"/>
<circle cx="1085" cy="1038" r="12.90" fill="none" stroke="#0c2a5a" stroke-width="0.9"/>
<circle cx="855" cy="263" r="16.00" fill="none" stroke="rgba(232,205,60,0.35)" stroke-width="1.6"/>
<circle cx="855" cy="263" r="14.20" fill="#123e80" stroke="#e6c93c" stroke-width="3.6"/>
<circle cx="855" cy="263" r="12.40" fill="none" stroke="#0c2a5a" stroke-width="0.9"/>
<circle cx="1070.5" cy="415.4" r="16.00" fill="none" stroke="rgba(232,205,60,0.35)" stroke-width="1.6"/>
<circle cx="1070.5" cy="415.4" r="14.20" fill="#123e80" stroke="#e6c93c" stroke-width="3.6"/>
<circle cx="1070.5" cy="415.4" r="12.40" fill="none" stroke="#0c2a5a" stroke-width="0.9"/>
<circle cx="1282" cy="1106.5" r="16.00" fill="none" stroke="rgba(232,205,60,0.35)" stroke-width="1.6"/>
<circle cx="1282" cy="1106.5" r="14.20" fill="#123e80" stroke="#e6c93c" stroke-width="3.6"/>
<circle cx="1282" cy="1106.5" r="12.40" fill="none" stroke="#0c2a5a" stroke-width="0.9"/>
<circle cx="1024.8" cy="1354.8" r="15.50" fill="none" stroke="rgba(232,205,60,0.35)" stroke-width="1.6"/>
<circle cx="1024.8" cy="1354.8" r="13.70" fill="#123e80" stroke="#e6c93c" stroke-width="3.6"/>
<circle cx="1024.8" cy="1354.8" r="11.90" fill="none" stroke="#0c2a5a" stroke-width="0.9"/>
<circle cx="1240.7" cy="1329" r="15.50" fill="none" stroke="rgba(232,205,60,0.35)" stroke-width="1.6"/>
<circle cx="1240.7" cy="1329" r="13.70" fill="#123e80" stroke="#e6c93c" stroke-width="3.6"/>
<circle cx="1240.7" cy="1329" r="11.90" fill="none" stroke="#0c2a5a" stroke-width="0.9"/>
<circle cx="1087.6" cy="616" r="15.20" fill="none" stroke="rgba(232,205,60,0.35)" stroke-width="1.6"/>
<circle cx="1087.6" cy="616" r="13.40" fill="#123e80" stroke="#e6c93c" stroke-width="3.6"/>
<circle cx="1087.6" cy="616" r="11.60" fill="none" stroke="#0c2a5a" stroke-width="0.9"/>
<circle cx="1046.4" cy="1040.3" r="15.20" fill="none" stroke="rgba(232,205,60,0.35)" stroke-width="1.6"/>
<circle cx="1046.4" cy="1040.3" r="13.40" fill="#123e80" stroke="#e6c93c" stroke-width="3.6"/>
<circle cx="1046.4" cy="1040.3" r="11.60" fill="none" stroke="#0c2a5a" stroke-width="0.9"/>
<circle cx="1238.3" cy="1367.2" r="14.50" fill="none" stroke="rgba(232,205,60,0.35)" stroke-width="1.6"/>
<circle cx="1238.3" cy="1367.2" r="12.70" fill="#123e80" stroke="#e6c93c" stroke-width="3.6"/>
<circle cx="1238.3" cy="1367.2" r="10.90" fill="none" stroke="#0c2a5a" stroke-width="0.9"/>
<circle cx="620" cy="365.2" r="13.80" fill="none" stroke="rgba(232,205,60,0.35)" stroke-width="1.6"/>
<circle cx="620" cy="365.2" r="12.00" fill="#123e80" stroke="#e6c93c" stroke-width="3.6"/>
<circle cx="620" cy="365.2" r="10.20" fill="none" stroke="#0c2a5a" stroke-width="0.9"/>
<circle cx="979.9" cy="934.5" r="13.80" fill="none" stroke="rgba(232,205,60,0.35)" stroke-width="1.6"/>
<circle cx="979.9" cy="934.5" r="12.00" fill="#123e80" stroke="#e6c93c" stroke-width="3.6"/>
<circle cx="979.9" cy="934.5" r="10.20" fill="none" stroke="#0c2a5a" stroke-width="0.9"/>
<circle cx="1124.5" cy="1114.8" r="13.80" fill="none" stroke="rgba(232,205,60,0.35)" stroke-width="1.6"/>
<circle cx="1124.5" cy="1114.8" r="12.00" fill="#123e80" stroke="#e6c93c" stroke-width="3.6"/>
<circle cx="1124.5" cy="1114.8" r="10.20" fill="none" stroke="#0c2a5a" stroke-width="0.9"/>
<circle cx="240.8" cy="282.2" r="12.40" fill="none" stroke="rgba(232,205,60,0.35)" stroke-width="1.6"/>
<circle cx="240.8" cy="282.2" r="10.60" fill="#123e80" stroke="#e6c93c" stroke-width="3.6"/>
<circle cx="240.8" cy="282.2" r="8.80" fill="none" stroke="#0c2a5a" stroke-width="0.9"/>
<circle cx="935" cy="481.6" r="12.40" fill="none" stroke="rgba(232,205,60,0.35)" stroke-width="1.6"/>
<circle cx="935" cy="481.6" r="10.60" fill="#123e80" stroke="#e6c93c" stroke-width="3.6"/>
<circle cx="935" cy="481.6" r="8.80" fill="none" stroke="#0c2a5a" stroke-width="0.9"/>
<circle cx="991.2" cy="817.2" r="11.60" fill="none" stroke="rgba(232,205,60,0.35)" stroke-width="1.6"/>
<circle cx="991.2" cy="817.2" r="9.80" fill="#123e80" stroke="#e6c93c" stroke-width="3.6"/>
<circle cx="991.2" cy="817.2" r="8.00" fill="none" stroke="#0c2a5a" stroke-width="0.9"/>
<circle cx="1014.7" cy="1319.5" r="11.60" fill="none" stroke="rgba(232,205,60,0.35)" stroke-width="1.6"/>
<circle cx="1014.7" cy="1319.5" r="9.80" fill="#123e80" stroke="#e6c93c" stroke-width="3.6"/>
<circle cx="1014.7" cy="1319.5" r="8.00" fill="none" stroke="#0c2a5a" stroke-width="0.9"/>
<circle cx="948.3" cy="621.7" r="11.00" fill="none" stroke="rgba(232,205,60,0.35)" stroke-width="1.6"/>
<circle cx="948.3" cy="621.7" r="9.20" fill="#123e80" stroke="#e6c93c" stroke-width="3.6"/>
<circle cx="948.3" cy="621.7" r="7.40" fill="none" stroke="#0c2a5a" stroke-width="0.9"/>
<circle cx="983.4" cy="885.7" r="11.00" fill="none" stroke="rgba(232,205,60,0.35)" stroke-width="1.6"/>
<circle cx="983.4" cy="885.7" r="9.20" fill="#123e80" stroke="#e6c93c" stroke-width="3.6"/>
<circle cx="983.4" cy="885.7" r="7.40" fill="none" stroke="#0c2a5a" stroke-width="0.9"/>
<circle cx="852" cy="448.5" r="10.50" fill="none" stroke="rgba(232,205,60,0.35)" stroke-width="1.6"/>
<circle cx="852" cy="448.5" r="8.70" fill="#123e80" stroke="#e6c93c" stroke-width="3.6"/>
<circle cx="852" cy="448.5" r="6.90" fill="none" stroke="#0c2a5a" stroke-width="0.9"/>
<circle cx="968.3" cy="731" r="10.50" fill="none" stroke="rgba(232,205,60,0.35)" stroke-width="1.6"/>
<circle cx="968.3" cy="731" r="8.70" fill="#123e80" stroke="#e6c93c" stroke-width="3.6"/>
<circle cx="968.3" cy="731" r="6.90" fill="none" stroke="#0c2a5a" stroke-width="0.9"/>
<circle cx="1004.5" cy="1242.6" r="10.50" fill="none" stroke="rgba(232,205,60,0.35)" stroke-width="1.6"/>
<circle cx="1004.5" cy="1242.6" r="8.70" fill="#123e80" stroke="#e6c93c" stroke-width="3.6"/>
<circle cx="1004.5" cy="1242.6" r="6.90" fill="none" stroke="#0c2a5a" stroke-width="0.9"/>
<circle cx="468.3" cy="543.7" r="10.20" fill="none" stroke="rgba(232,205,60,0.35)" stroke-width="1.6"/>
<circle cx="468.3" cy="543.7" r="8.40" fill="#123e80" stroke="#e6c93c" stroke-width="3.6"/>
<circle cx="468.3" cy="543.7" r="6.60" fill="none" stroke="#0c2a5a" stroke-width="0.9"/>
<circle cx="1258.6" cy="1232.5" r="10.00" fill="none" stroke="rgba(232,205,60,0.35)" stroke-width="1.6"/>
<circle cx="1258.6" cy="1232.5" r="8.20" fill="#123e80" stroke="#e6c93c" stroke-width="3.6"/>
<circle cx="1258.6" cy="1232.5" r="6.40" fill="none" stroke="#0c2a5a" stroke-width="0.9"/>
<circle cx="418" cy="311.4" r="9.70" fill="none" stroke="rgba(232,205,60,0.35)" stroke-width="1.6"/>
<circle cx="418" cy="311.4" r="7.90" fill="#123e80" stroke="#e6c93c" stroke-width="3.6"/>
<circle cx="418" cy="311.4" r="6.10" fill="none" stroke="#0c2a5a" stroke-width="0.9"/>
<circle cx="552.7" cy="305.9" r="9.70" fill="none" stroke="rgba(232,205,60,0.35)" stroke-width="1.6"/>
<circle cx="552.7" cy="305.9" r="7.90" fill="#123e80" stroke="#e6c93c" stroke-width="3.6"/>
<circle cx="552.7" cy="305.9" r="6.10" fill="none" stroke="#0c2a5a" stroke-width="0.9"/>
<circle cx="1061.4" cy="283.8" r="9.70" fill="none" stroke="rgba(232,205,60,0.35)" stroke-width="1.6"/>
<circle cx="1061.4" cy="283.8" r="7.90" fill="#123e80" stroke="#e6c93c" stroke-width="3.6"/>
<circle cx="1061.4" cy="283.8" r="6.10" fill="none" stroke="#0c2a5a" stroke-width="0.9"/>
<circle cx="966.9" cy="685.4" r="9.70" fill="none" stroke="rgba(232,205,60,0.35)" stroke-width="1.6"/>
<circle cx="966.9" cy="685.4" r="7.90" fill="#123e80" stroke="#e6c93c" stroke-width="3.6"/>
<circle cx="966.9" cy="685.4" r="6.10" fill="none" stroke="#0c2a5a" stroke-width="0.9"/>
<circle cx="924.1" cy="967.6" r="9.70" fill="none" stroke="rgba(232,205,60,0.35)" stroke-width="1.6"/>
<circle cx="924.1" cy="967.6" r="7.90" fill="#123e80" stroke="#e6c93c" stroke-width="3.6"/>
<circle cx="924.1" cy="967.6" r="6.10" fill="none" stroke="#0c2a5a" stroke-width="0.9"/>
<circle cx="992" cy="1035.7" r="9.70" fill="none" stroke="rgba(232,205,60,0.35)" stroke-width="1.6"/>
<circle cx="992" cy="1035.7" r="7.90" fill="#123e80" stroke="#e6c93c" stroke-width="3.6"/>
<circle cx="992" cy="1035.7" r="6.10" fill="none" stroke="#0c2a5a" stroke-width="0.9"/>
<circle cx="1051.4" cy="1136.9" r="9.70" fill="none" stroke="rgba(232,205,60,0.35)" stroke-width="1.6"/>
<circle cx="1051.4" cy="1136.9" r="7.90" fill="#123e80" stroke="#e6c93c" stroke-width="3.6"/>
<circle cx="1051.4" cy="1136.9" r="6.10" fill="none" stroke="#0c2a5a" stroke-width="0.9"/>
<circle cx="1091.2" cy="970.3" r="9.00" fill="none" stroke="rgba(232,205,60,0.35)" stroke-width="1.6"/>
<circle cx="1091.2" cy="970.3" r="7.60" fill="#123e80" stroke="#e6c93c" stroke-width="2.8"/>
<circle cx="1091.2" cy="970.3" r="6.20" fill="none" stroke="#0c2a5a" stroke-width="0.9"/>
<circle cx="819.3" cy="673" r="8.80" fill="none" stroke="rgba(232,205,60,0.35)" stroke-width="1.6"/>
<circle cx="819.3" cy="673" r="7.40" fill="#123e80" stroke="#e6c93c" stroke-width="2.8"/>
<circle cx="819.3" cy="673" r="6.00" fill="none" stroke="#0c2a5a" stroke-width="0.9"/>
<circle cx="873.1" cy="673" r="8.80" fill="none" stroke="rgba(232,205,60,0.35)" stroke-width="1.6"/>
<circle cx="873.1" cy="673" r="7.40" fill="#123e80" stroke="#e6c93c" stroke-width="2.8"/>
<circle cx="873.1" cy="673" r="6.00" fill="none" stroke="#0c2a5a" stroke-width="0.9"/>
<circle cx="800.6" cy="671.9" r="8.30" fill="none" stroke="rgba(232,205,60,0.35)" stroke-width="1.6"/>
<circle cx="800.6" cy="671.9" r="6.90" fill="#123e80" stroke="#e6c93c" stroke-width="2.8"/>
<circle cx="800.6" cy="671.9" r="5.50" fill="none" stroke="#0c2a5a" stroke-width="0.9"/>
<circle cx="1060.2" cy="1061.9" r="8.30" fill="none" stroke="rgba(232,205,60,0.35)" stroke-width="1.6"/>
<circle cx="1060.2" cy="1061.9" r="6.90" fill="#123e80" stroke="#e6c93c" stroke-width="2.8"/>
<circle cx="1060.2" cy="1061.9" r="5.50" fill="none" stroke="#0c2a5a" stroke-width="0.9"/>
<circle cx="1070.7" cy="1292.8" r="8.30" fill="none" stroke="rgba(232,205,60,0.35)" stroke-width="1.6"/>
<circle cx="1070.7" cy="1292.8" r="6.90" fill="#123e80" stroke="#e6c93c" stroke-width="2.8"/>
<circle cx="1070.7" cy="1292.8" r="5.50" fill="none" stroke="#0c2a5a" stroke-width="0.9"/>
<circle cx="860.7" cy="916.6" r="8.00" fill="none" stroke="rgba(232,205,60,0.35)" stroke-width="1.6"/>
<circle cx="860.7" cy="916.6" r="6.60" fill="#123e80" stroke="#e6c93c" stroke-width="2.8"/>
<circle cx="860.7" cy="916.6" r="5.20" fill="none" stroke="#0c2a5a" stroke-width="0.9"/>
<circle cx="969.7" cy="652.3" r="7.70" fill="none" stroke="rgba(232,205,60,0.35)" stroke-width="1.6"/>
<circle cx="969.7" cy="652.3" r="6.30" fill="#123e80" stroke="#e6c93c" stroke-width="2.8"/>
<circle cx="969.7" cy="652.3" r="4.90" fill="none" stroke="#0c2a5a" stroke-width="0.9"/>
<circle cx="1025" cy="693.7" r="7.70" fill="none" stroke="rgba(232,205,60,0.35)" stroke-width="1.6"/>
<circle cx="1025" cy="693.7" r="6.30" fill="#123e80" stroke="#e6c93c" stroke-width="2.8"/>
<circle cx="1025" cy="693.7" r="4.90" fill="none" stroke="#0c2a5a" stroke-width="0.9"/>
<circle cx="1021.2" cy="768.1" r="7.70" fill="none" stroke="rgba(232,205,60,0.35)" stroke-width="1.6"/>
<circle cx="1021.2" cy="768.1" r="6.30" fill="#123e80" stroke="#e6c93c" stroke-width="2.8"/>
<circle cx="1021.2" cy="768.1" r="4.90" fill="none" stroke="#0c2a5a" stroke-width="0.9"/>
<circle cx="1056.9" cy="1412.8" r="7.60" fill="none" stroke="rgba(232,205,60,0.35)" stroke-width="1.6"/>
<circle cx="1056.9" cy="1412.8" r="6.20" fill="#123e80" stroke="#e6c93c" stroke-width="2.8"/>
<circle cx="1056.9" cy="1412.8" r="4.80" fill="none" stroke="#0c2a5a" stroke-width="0.9"/>
<circle cx="1055.2" cy="1532.4" r="7.60" fill="none" stroke="rgba(232,205,60,0.35)" stroke-width="1.6"/>
<circle cx="1055.2" cy="1532.4" r="6.20" fill="#123e80" stroke="#e6c93c" stroke-width="2.8"/>
<circle cx="1055.2" cy="1532.4" r="4.80" fill="none" stroke="#0c2a5a" stroke-width="0.9"/>
<circle cx="1374" cy="1454" r="7.60" fill="none" stroke="rgba(232,205,60,0.35)" stroke-width="1.6"/>
<circle cx="1374" cy="1454" r="6.20" fill="#123e80" stroke="#e6c93c" stroke-width="2.8"/>
<circle cx="1374" cy="1454" r="4.80" fill="none" stroke="#0c2a5a" stroke-width="0.9"/>
<circle cx="866.2" cy="790.5" r="7.40" fill="none" stroke="rgba(232,205,60,0.35)" stroke-width="1.6"/>
<circle cx="866.2" cy="790.5" r="6.00" fill="#123e80" stroke="#e6c93c" stroke-width="2.8"/>
<circle cx="866.2" cy="790.5" r="4.60" fill="none" stroke="#0c2a5a" stroke-width="0.9"/>
<circle cx="436.6" cy="392.8" r="7.00" fill="none" stroke="rgba(232,205,60,0.35)" stroke-width="1.6"/>
<circle cx="436.6" cy="392.8" r="5.60" fill="#123e80" stroke="#e6c93c" stroke-width="2.8"/>
<circle cx="436.6" cy="392.8" r="4.20" fill="none" stroke="#0c2a5a" stroke-width="0.9"/>
<circle cx="688.8" cy="680.4" r="7.00" fill="none" stroke="rgba(232,205,60,0.35)" stroke-width="1.6"/>
<circle cx="688.8" cy="680.4" r="5.60" fill="#123e80" stroke="#e6c93c" stroke-width="2.8"/>
<circle cx="688.8" cy="680.4" r="4.20" fill="none" stroke="#0c2a5a" stroke-width="0.9"/>
<circle cx="975.3" cy="609.3" r="7.00" fill="none" stroke="rgba(232,205,60,0.35)" stroke-width="1.6"/>
<circle cx="975.3" cy="609.3" r="5.60" fill="#123e80" stroke="#e6c93c" stroke-width="2.8"/>
<circle cx="975.3" cy="609.3" r="4.20" fill="none" stroke="#0c2a5a" stroke-width="0.9"/>
<circle cx="955.9" cy="662.2" r="7.00" fill="none" stroke="rgba(232,205,60,0.35)" stroke-width="1.6"/>
<circle cx="955.9" cy="662.2" r="5.60" fill="#123e80" stroke="#e6c93c" stroke-width="2.8"/>
<circle cx="955.9" cy="662.2" r="4.20" fill="none" stroke="#0c2a5a" stroke-width="0.9"/>
<circle cx="953.1" cy="720.1" r="7.00" fill="none" stroke="rgba(232,205,60,0.35)" stroke-width="1.6"/>
<circle cx="953.1" cy="720.1" r="5.60" fill="#123e80" stroke="#e6c93c" stroke-width="2.8"/>
<circle cx="953.1" cy="720.1" r="4.20" fill="none" stroke="#0c2a5a" stroke-width="0.9"/>
<circle cx="916.1" cy="916" r="7.00" fill="none" stroke="rgba(232,205,60,0.35)" stroke-width="1.6"/>
<circle cx="916.1" cy="916" r="5.60" fill="#123e80" stroke="#e6c93c" stroke-width="2.8"/>
<circle cx="916.1" cy="916" r="4.20" fill="none" stroke="#0c2a5a" stroke-width="0.9"/>
<circle cx="1070.7" cy="1079" r="7.00" fill="none" stroke="rgba(232,205,60,0.35)" stroke-width="1.6"/>
<circle cx="1070.7" cy="1079" r="5.60" fill="#123e80" stroke="#e6c93c" stroke-width="2.8"/>
<circle cx="1070.7" cy="1079" r="4.20" fill="none" stroke="#0c2a5a" stroke-width="0.9"/>
<circle cx="970.6" cy="1088" r="7.00" fill="none" stroke="rgba(232,205,60,0.35)" stroke-width="1.6"/>
<circle cx="970.6" cy="1088" r="5.60" fill="#123e80" stroke="#e6c93c" stroke-width="2.8"/>
<circle cx="970.6" cy="1088" r="4.20" fill="none" stroke="#0c2a5a" stroke-width="0.9"/>
<circle cx="976.9" cy="1103" r="7.00" fill="none" stroke="rgba(232,205,60,0.35)" stroke-width="1.6"/>
<circle cx="976.9" cy="1103" r="5.60" fill="#123e80" stroke="#e6c93c" stroke-width="2.8"/>
<circle cx="976.9" cy="1103" r="4.20" fill="none" stroke="#0c2a5a" stroke-width="0.9"/>
<circle cx="1208" cy="1138.3" r="7.00" fill="none" stroke="rgba(232,205,60,0.35)" stroke-width="1.6"/>
<circle cx="1208" cy="1138.3" r="5.60" fill="#123e80" stroke="#e6c93c" stroke-width="2.8"/>
<circle cx="1208" cy="1138.3" r="4.20" fill="none" stroke="#0c2a5a" stroke-width="0.9"/>
<circle cx="1258.6" cy="1369.7" r="6.20" fill="none" stroke="rgba(232,205,60,0.35)" stroke-width="1.6"/>
<circle cx="1258.6" cy="1369.7" r="4.80" fill="#123e80" stroke="#e6c93c" stroke-width="2.8"/>
<circle cx="1258.6" cy="1369.7" r="3.40" fill="none" stroke="#0c2a5a" stroke-width="0.9"/>
<circle cx="1007.2" cy="1161.7" r="6.00" fill="none" stroke="rgba(232,205,60,0.35)" stroke-width="1.6"/>
<circle cx="1007.2" cy="1161.7" r="4.60" fill="#123e80" stroke="#e6c93c" stroke-width="2.8"/>
<circle cx="1007.2" cy="1161.7" r="3.20" fill="none" stroke="#0c2a5a" stroke-width="0.9"/>
<circle cx="998.8" cy="256.8" r="5.50" fill="none" stroke="rgba(232,205,60,0.35)" stroke-width="1.6"/>
<circle cx="998.8" cy="256.8" r="4.10" fill="#123e80" stroke="#e6c93c" stroke-width="2.8"/>
<circle cx="998.8" cy="256.8" r="2.70" fill="none" stroke="#0c2a5a" stroke-width="0.9"/>
<circle cx="1157" cy="377.6" r="3.50" fill="none" stroke="rgba(232,205,60,0.35)" stroke-width="1.6"/>
<circle cx="1157" cy="377.6" r="2.10" fill="#123e80" stroke="#e6c93c" stroke-width="2.8"/>
<circle cx="1157" cy="377.6" r="0.70" fill="none" stroke="#0c2a5a" stroke-width="0.9"/>
</g>
<text x="698" y="178.0" font-family='"Liberation Sans", sans-serif' font-size="14" fill="#7d7d7d" text-anchor="middle" textLength="73" lengthAdjust="spacingAndGlyphs" stroke="#f6f6f6" stroke-width="3" stroke-opacity="0.92" paint-order="stroke" transform="rotate(-90 698 173)">7th Ave N</text>
<text x="840" y="178.0" font-family='"Liberation Sans", sans-serif' font-size="14" fill="#7d7d7d" text-anchor="middle" textLength="75" lengthAdjust="spacingAndGlyphs" stroke="#f6f6f6" stroke-width="3" stroke-opacity="0.92" paint-order="stroke" transform="rotate(-90 840 173)">9th Ave N</text>
<text x="1033" y="179.0" font-family='"Liberation Sans", sans-serif' font-size="14" fill="#7d7d7d" text-anchor="middle" textLength="117" lengthAdjust="spacingAndGlyphs" stroke="#f6f6f6" stroke-width="3" stroke-opacity="0.92" paint-order="stroke" transform="rotate(-90 1033 174)">Fairview Ave N</text>
<text x="1217" y="180.0" font-family='"Liberation Sans", sans-serif' font-size="14" fill="#7d7d7d" text-anchor="middle" textLength="114" lengthAdjust="spacingAndGlyphs" stroke="#f6f6f6" stroke-width="3" stroke-opacity="0.92" paint-order="stroke" transform="rotate(-90 1217 175)">Eastlake Ave E</text>
<text x="1357" y="231.0" font-family='"Liberation Sans", sans-serif' font-size="14" fill="#7d7d7d" text-anchor="middle" textLength="88" lengthAdjust="spacingAndGlyphs" stroke="#f6f6f6" stroke-width="3" stroke-opacity="0.92" paint-order="stroke" transform="rotate(-50 1357 226)">E Olive Way</text>
<text x="981" y="249.0" font-family='"Liberation Sans", sans-serif' font-size="14" fill="#7d7d7d" text-anchor="middle" textLength="82" lengthAdjust="spacingAndGlyphs" stroke="#f6f6f6" stroke-width="3" stroke-opacity="0.92" paint-order="stroke">Denny Way</text>
<text x="570" y="244.0" font-family='"Liberation Sans", sans-serif' font-size="14" fill="#a9aca9" text-anchor="middle" textLength="42" lengthAdjust="spacingAndGlyphs" stroke="#f6f6f6" stroke-width="3" stroke-opacity="0.92" paint-order="stroke">Tillikum</text>
<text x="570" y="264.0" font-family='"Liberation Sans", sans-serif' font-size="14" fill="#a9aca9" text-anchor="middle" textLength="40" lengthAdjust="spacingAndGlyphs" stroke="#f6f6f6" stroke-width="3" stroke-opacity="0.92" paint-order="stroke">Place</text>
<text x="127" y="246.0" font-family='"Liberation Sans", sans-serif' font-size="14" fill="#a9aca9" text-anchor="middle" textLength="45" lengthAdjust="spacingAndGlyphs" stroke="#f6f6f6" stroke-width="3" stroke-opacity="0.92" paint-order="stroke">Myrtle</text>
<text x="126" y="264.0" font-family='"Liberation Sans", sans-serif' font-size="14" fill="#a9aca9" text-anchor="middle" textLength="60" lengthAdjust="spacingAndGlyphs" stroke="#f6f6f6" stroke-width="3" stroke-opacity="0.92" paint-order="stroke">Edwards</text>
<text x="126" y="281.0" font-family='"Liberation Sans", sans-serif' font-size="14" fill="#a9aca9" text-anchor="middle" textLength="30" lengthAdjust="spacingAndGlyphs" stroke="#f6f6f6" stroke-width="3" stroke-opacity="0.92" paint-order="stroke">Park</text>
<text x="447" y="265.0" font-family='"Liberation Sans", sans-serif' font-size="14" fill="#7d7d7d" text-anchor="middle" textLength="62" lengthAdjust="spacingAndGlyphs" stroke="#f6f6f6" stroke-width="3" stroke-opacity="0.92" paint-order="stroke" transform="rotate(-55 447 260)">Broad St</text>
<text x="609" y="341.0" font-family='"Liberation Sans", sans-serif' font-size="14" fill="#7d7d7d" text-anchor="middle" textLength="55" lengthAdjust="spacingAndGlyphs" stroke="#f6f6f6" stroke-width="3" stroke-opacity="0.92" paint-order="stroke" transform="rotate(40 609 336)">4th Ave</text>
<text x="537" y="399.0" font-family='"Liberation Sans", sans-serif' font-size="14" fill="#7d7d7d" text-anchor="middle" textLength="58" lengthAdjust="spacingAndGlyphs" stroke="#f6f6f6" stroke-width="3" stroke-opacity="0.92" paint-order="stroke" transform="rotate(40 537 394)">2nd Ave</text>
<text x="693" y="415.8" font-family='"Liberation Sans", sans-serif' font-size="19" fill="#7d7d7d" text-anchor="middle" textLength="86" lengthAdjust="spacingAndGlyphs" stroke="#f6f6f6" stroke-width="3" stroke-opacity="0.92" paint-order="stroke">Belltown</text>
<text x="951" y="365.8" font-family='"Liberation Sans", sans-serif' font-size="19" fill="#7d7d7d" text-anchor="middle" textLength="60" lengthAdjust="spacingAndGlyphs" stroke="#f6f6f6" stroke-width="3" stroke-opacity="0.92" paint-order="stroke">Denny</text>
<text x="951" y="388.8" font-family='"Liberation Sans", sans-serif' font-size="19" fill="#7d7d7d" text-anchor="middle" textLength="79" lengthAdjust="spacingAndGlyphs" stroke="#f6f6f6" stroke-width="3" stroke-opacity="0.92" paint-order="stroke">Regrade</text>
<text x="444" y="477.0" font-family='"Liberation Sans", sans-serif' font-size="14" fill="#a9aca9" text-anchor="middle" textLength="63" lengthAdjust="spacingAndGlyphs" stroke="#f6f6f6" stroke-width="3" stroke-opacity="0.92" paint-order="stroke">Belltown</text>
<text x="444" y="495.0" font-family='"Liberation Sans", sans-serif' font-size="14" fill="#a9aca9" text-anchor="middle" textLength="51" lengthAdjust="spacingAndGlyphs" stroke="#f6f6f6" stroke-width="3" stroke-opacity="0.92" paint-order="stroke">P-Patch</text>
<text x="1058" y="471.0" font-family='"Liberation Sans", sans-serif' font-size="14" fill="#7d7d7d" text-anchor="middle" textLength="72" lengthAdjust="spacingAndGlyphs" stroke="#f6f6f6" stroke-width="3" stroke-opacity="0.92" paint-order="stroke" transform="rotate(-30 1058 466)">Olive Way</text>
<text x="1376" y="481.0" font-family='"Liberation Sans", sans-serif' font-size="14" fill="#7d7d7d" text-anchor="middle" textLength="67" lengthAdjust="spacingAndGlyphs" stroke="#f6f6f6" stroke-width="3" stroke-opacity="0.92" paint-order="stroke">E Pike St</text>
<text x="1252" y="561.0" font-family='"Liberation Sans", sans-serif' font-size="14" fill="#7d7d7d" text-anchor="middle" textLength="75" lengthAdjust="spacingAndGlyphs" stroke="#f6f6f6" stroke-width="3" stroke-opacity="0.92" paint-order="stroke" transform="rotate(62 1252 556)">Boren Ave</text>
<text x="571" y="553.0" font-family='"Liberation Sans", sans-serif' font-size="14" fill="#7d7d7d" text-anchor="middle" textLength="50" lengthAdjust="spacingAndGlyphs" stroke="#f6f6f6" stroke-width="3" stroke-opacity="0.92" paint-order="stroke" transform="rotate(-55 571 548)">Bell St</text>
<text x="522" y="629.5" font-family='"Liberation Sans", sans-serif' font-size="18" fill="#7d7d7d" text-anchor="middle" textLength="70" lengthAdjust="spacingAndGlyphs" stroke="#f6f6f6" stroke-width="3" stroke-opacity="0.92" paint-order="stroke">Central</text>
<text x="522" y="652.5" font-family='"Liberation Sans", sans-serif' font-size="18" fill="#7d7d7d" text-anchor="middle" textLength="108" lengthAdjust="spacingAndGlyphs" stroke="#f6f6f6" stroke-width="3" stroke-opacity="0.92" paint-order="stroke">Waterfront</text>
<text x="644" y="660.0" font-family='"Liberation Sans", sans-serif' font-size="14" fill="#7d7d7d" text-anchor="middle" textLength="80" lengthAdjust="spacingAndGlyphs" stroke="#f6f6f6" stroke-width="3" stroke-opacity="0.92" paint-order="stroke" transform="rotate(50 644 655)">Elliott Way</text>
<text x="1351" y="634.5" font-family='"Liberation Sans", sans-serif' font-size="18" fill="#7d7d7d" text-anchor="middle" textLength="80" lengthAdjust="spacingAndGlyphs" stroke="#f6f6f6" stroke-width="3" stroke-opacity="0.92" paint-order="stroke">First Hill</text>
<text x="1066" y="611.0" font-family='"Liberation Sans", sans-serif' font-size="14" fill="#7d7d7d" text-anchor="middle" textLength="52" lengthAdjust="spacingAndGlyphs" stroke="#f6f6f6" stroke-width="3" stroke-opacity="0.92" paint-order="stroke" transform="rotate(-32 1066 606)">Pike St</text>
<text x="919" y="644.0" font-family='"Liberation Sans", sans-serif' font-size="14" fill="#7d7d7d" text-anchor="middle" textLength="57" lengthAdjust="spacingAndGlyphs" stroke="#f6f6f6" stroke-width="3" stroke-opacity="0.92" paint-order="stroke" transform="rotate(60 919 639)">4th Ave</text>
<text x="1168" y="655.0" font-family='"Liberation Sans", sans-serif' font-size="14" fill="#7d7d7d" text-anchor="middle" textLength="74" lengthAdjust="spacingAndGlyphs" stroke="#f6f6f6" stroke-width="3" stroke-opacity="0.92" paint-order="stroke" transform="rotate(80 1168 650)">Hubbell Pl</text>
<text x="853" y="709.0" font-family='"Liberation Sans", sans-serif' font-size="14" fill="#7d7d7d" text-anchor="middle" textLength="58" lengthAdjust="spacingAndGlyphs" stroke="#f6f6f6" stroke-width="3" stroke-opacity="0.92" paint-order="stroke" transform="rotate(57 853 704)">2nd Ave</text>
<text x="822" y="745.0" font-family='"Liberation Sans", sans-serif' font-size="14" fill="#7d7d7d" text-anchor="middle" textLength="53" lengthAdjust="spacingAndGlyphs" stroke="#f6f6f6" stroke-width="3" stroke-opacity="0.92" paint-order="stroke" transform="rotate(60 822 740)">1st Ave</text>
<text x="1054" y="743.5" font-family='"Liberation Sans", sans-serif' font-size="18" fill="#7d7d7d" text-anchor="middle" textLength="70" lengthAdjust="spacingAndGlyphs" stroke="#f6f6f6" stroke-width="3" stroke-opacity="0.92" paint-order="stroke">Central</text>
<text x="1054" y="766.5" font-family='"Liberation Sans", sans-serif' font-size="18" fill="#7d7d7d" text-anchor="middle" textLength="82" lengthAdjust="spacingAndGlyphs" stroke="#f6f6f6" stroke-width="3" stroke-opacity="0.92" paint-order="stroke">Business</text>
<text x="1054" y="789.5" font-family='"Liberation Sans", sans-serif' font-size="18" fill="#7d7d7d" text-anchor="middle" textLength="70" lengthAdjust="spacingAndGlyphs" stroke="#f6f6f6" stroke-width="3" stroke-opacity="0.92" paint-order="stroke">District</text>
<text x="1279" y="778.0" font-family='"Liberation Sans", sans-serif' font-size="14" fill="#7d7d7d" text-anchor="middle" textLength="82" lengthAdjust="spacingAndGlyphs" stroke="#f6f6f6" stroke-width="3" stroke-opacity="0.92" paint-order="stroke" transform="rotate(-32 1279 773)">Madison St</text>
<text x="646" y="758.0" font-family='"Liberation Sans", sans-serif' font-size="14" fill="#a9aca9" text-anchor="middle" textLength="54" lengthAdjust="spacingAndGlyphs" stroke="#f6f6f6" stroke-width="3" stroke-opacity="0.92" paint-order="stroke">Piers 62</text>
<text x="647" y="776.0" font-family='"Liberation Sans", sans-serif' font-size="14" fill="#a9aca9" text-anchor="middle" textLength="46" lengthAdjust="spacingAndGlyphs" stroke="#f6f6f6" stroke-width="3" stroke-opacity="0.92" paint-order="stroke">And 63</text>
<text x="835" y="924.0" font-family='"Liberation Sans", sans-serif' font-size="14" fill="#a9aca9" text-anchor="middle" textLength="88" lengthAdjust="spacingAndGlyphs" stroke="#f6f6f6" stroke-width="3" stroke-opacity="0.92" paint-order="stroke">Alaskan Way</text>
<text x="834" y="942.0" font-family='"Liberation Sans", sans-serif' font-size="14" fill="#a9aca9" text-anchor="middle" textLength="75" lengthAdjust="spacingAndGlyphs" stroke="#f6f6f6" stroke-width="3" stroke-opacity="0.92" paint-order="stroke">Boulevard</text>
<text x="1250" y="991.0" font-family='"Liberation Sans", sans-serif' font-size="14" fill="#7d7d7d" text-anchor="middle" textLength="57" lengthAdjust="spacingAndGlyphs" stroke="#f6f6f6" stroke-width="3" stroke-opacity="0.92" paint-order="stroke" transform="rotate(58 1250 986)">6th Ave</text>
<text x="1063" y="866.0" font-family='"Liberation Sans", sans-serif' font-size="14" fill="#7d7d7d" text-anchor="middle" textLength="76" lengthAdjust="spacingAndGlyphs" stroke="#f6f6f6" stroke-width="3" stroke-opacity="0.92" paint-order="stroke" transform="rotate(-35 1063 861)">Spring St</text>
<text x="1107" y="991.0" font-family='"Liberation Sans", sans-serif' font-size="14" fill="#7d7d7d" text-anchor="middle" textLength="86" lengthAdjust="spacingAndGlyphs" stroke="#f6f6f6" stroke-width="3" stroke-opacity="0.92" paint-order="stroke" transform="rotate(-35 1107 986)">Columbia St</text>
<text x="983" y="1003.0" font-family='"Liberation Sans", sans-serif' font-size="14" fill="#7d7d7d" text-anchor="middle" textLength="52" lengthAdjust="spacingAndGlyphs" stroke="#f6f6f6" stroke-width="3" stroke-opacity="0.92" paint-order="stroke" transform="rotate(62 983 998)">1st Ave</text>
<text x="1041" y="1016.0" font-family='"Liberation Sans", sans-serif' font-size="14" fill="#7d7d7d" text-anchor="middle" textLength="55" lengthAdjust="spacingAndGlyphs" stroke="#f6f6f6" stroke-width="3" stroke-opacity="0.92" paint-order="stroke" transform="rotate(62 1041 1011)">2nd Ave</text>
<text x="1177" y="1056.0" font-family='"Liberation Sans", sans-serif' font-size="29" fill="#4e4e4e" text-anchor="middle" textLength="120" lengthAdjust="spacingAndGlyphs" stroke="#f6f6f6" stroke-width="3" stroke-opacity="0.92" paint-order="stroke">Seattle</text>
<text x="1230" y="1131.0" font-family='"Liberation Sans", sans-serif' font-size="14" fill="#7d7d7d" text-anchor="middle" textLength="85" lengthAdjust="spacingAndGlyphs" stroke="#f6f6f6" stroke-width="3" stroke-opacity="0.92" paint-order="stroke">Yesler Way</text>
<text x="1035" y="1221.0" font-family='"Liberation Sans", sans-serif' font-size="14" fill="#7d7d7d" text-anchor="middle" textLength="69" lengthAdjust="spacingAndGlyphs" stroke="#f6f6f6" stroke-width="3" stroke-opacity="0.92" paint-order="stroke" transform="rotate(-90 1035 1216)">1st Ave S</text>
<text x="1130" y="1252.5" font-family='"Liberation Sans", sans-serif' font-size="18" fill="#7d7d7d" text-anchor="middle" textLength="73" lengthAdjust="spacingAndGlyphs" stroke="#f6f6f6" stroke-width="3" stroke-opacity="0.92" paint-order="stroke">Pioneer</text>
<text x="1130" y="1275.5" font-family='"Liberation Sans", sans-serif' font-size="18" fill="#7d7d7d" text-anchor="middle" textLength="64" lengthAdjust="spacingAndGlyphs" stroke="#f6f6f6" stroke-width="3" stroke-opacity="0.92" paint-order="stroke">Square</text>
<text x="1262" y="1264.0" font-family='"Liberation Sans", sans-serif' font-size="14" fill="#7d7d7d" text-anchor="middle" textLength="95" lengthAdjust="spacingAndGlyphs" stroke="#f6f6f6" stroke-width="3" stroke-opacity="0.92" paint-order="stroke">S Jackson St</text>
<text x="1220" y="1327.0" font-family='"Liberation Sans", sans-serif' font-size="14" fill="#7d7d7d" text-anchor="middle" textLength="72" lengthAdjust="spacingAndGlyphs" stroke="#f6f6f6" stroke-width="3" stroke-opacity="0.92" paint-order="stroke" transform="rotate(90 1220 1322)">4th Ave S</text>
<text x="1395" y="1348.5" font-family='"Liberation Sans", sans-serif' font-size="18" fill="#7d7d7d" text-anchor="middle" textLength="55" lengthAdjust="spacingAndGlyphs" stroke="#f6f6f6" stroke-width="3" stroke-opacity="0.92" paint-order="stroke">Inter</text>
<text x="1409" y="1366.5" font-family='"Liberation Sans", sans-serif' font-size="18" fill="#7d7d7d" text-anchor="middle" textLength="26" lengthAdjust="spacingAndGlyphs" stroke="#f6f6f6" stroke-width="3" stroke-opacity="0.92" paint-order="stroke">Di</text>
<text x="1372" y="1441.0" font-family='"Liberation Sans", sans-serif' font-size="14" fill="#7d7d7d" text-anchor="middle" textLength="97" lengthAdjust="spacingAndGlyphs" stroke="#f6f6f6" stroke-width="3" stroke-opacity="0.92" paint-order="stroke">S Dearborn St</text>
<text x="1272" y="1449.0" font-family='"Liberation Sans", sans-serif' font-size="14" fill="#7d7d7d" text-anchor="middle" textLength="98" lengthAdjust="spacingAndGlyphs" stroke="#f6f6f6" stroke-width="3" stroke-opacity="0.92" paint-order="stroke" transform="rotate(38 1272 1444)">Seattle Blvd S</text>
<rect x="1177.0" y="842.5" width="18" height="19" rx="2" fill="#fafafa" stroke="#dedede" stroke-width="1"/>
<text x="1186" y="856.5" font-family='"Liberation Sans", sans-serif' font-size="12" fill="#666" text-anchor="middle">5</text>
<rect x="1329.0" y="1082.5" width="18" height="19" rx="2" fill="#fafafa" stroke="#dedede" stroke-width="1"/>
<text x="1338" y="1096.5" font-family='"Liberation Sans", sans-serif' font-size="12" fill="#666" text-anchor="middle">5</text>
<rect x="890.0" y="1102.5" width="32" height="19" rx="2" fill="#fafafa" stroke="#dedede" stroke-width="1"/>
<text x="906" y="1116.5" font-family='"Liberation Sans", sans-serif' font-size="12" fill="#666" text-anchor="middle">304</text>
<rect x="1020.0" y="1473.0" width="30" height="20" rx="2" fill="#fafafa" stroke="#dedede" stroke-width="1"/>
<text x="1035" y="1487.5" font-family='"Liberation Sans", sans-serif' font-size="12" fill="#666" text-anchor="middle">519</text>
<polygon points="108.0,246.0 1239.0,239.0 1150.0,680.0 1251.0,931.0 1419.0,1173.0 1422.0,1550.0 978.0,1539.0 965.0,1141.0 704.0,764.0 615.0,761.0" fill="none" stroke="#0b0830" stroke-width="6" stroke-linejoin="miter"/>
</svg>
<div class="lg"><div class="c1"></div><div class="c2"></div>
<div class="tx" style="top:25px">Office Building (dot size = total RBA)</div>
<div class="tx" style="top:114px">Building &gt;30% Vacant</div></div>
</body></html>
